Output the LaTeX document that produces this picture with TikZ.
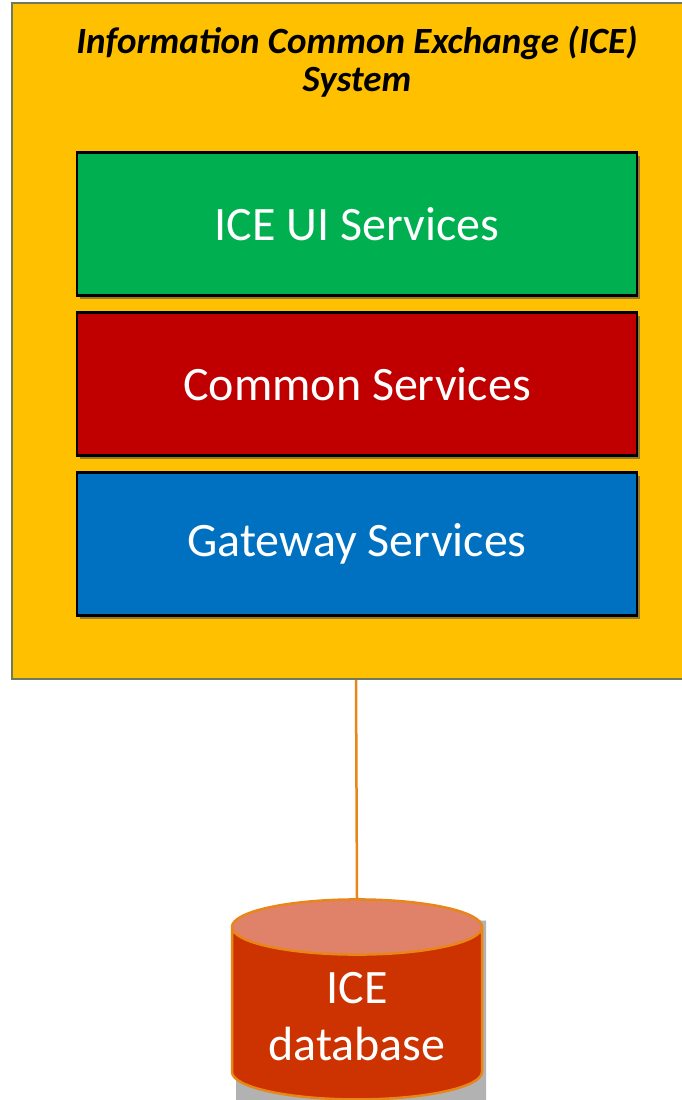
\documentclass[tikz,border=0pt]{standalone}
\usepackage{fontspec}
\setmainfont{Carlito}
\usetikzlibrary{shapes.geometric,shadows,positioning}

\definecolor{iceyellow}{HTML}{FFC000}
\definecolor{iceframe}{HTML}{6E7A5A}
\definecolor{uigreen}{HTML}{00B050}
\definecolor{commonred}{HTML}{C00000}
\definecolor{gatewayblue}{HTML}{0070C0}
\definecolor{dbbody}{HTML}{CC3300}
\definecolor{dbtop}{HTML}{E0826A}
\definecolor{dborange}{HTML}{E8861A}

\tikzset{
  layer/.style={draw=black, line width=2.5pt, minimum width=560pt, minimum height=143pt,
    text=white, font=\fontsize{48}{57}\selectfont,
    drop shadow={shadow xshift=3pt, shadow yshift=-3pt, opacity=0.6, fill=black!70}},
  dbshape/.style={shape=cylinder, shape border rotate=90, aspect=0.3,
    line width=2.5pt, minimum width=250pt, minimum height=200pt,
    cylinder uses custom fill},
}

\begin{document}
\begin{tikzpicture}[x=1pt,y=-1pt]

  % Page size of the reference
  \clip (0,0) rectangle (682,1100);
  \useasboundingbox (0,0) rectangle (682,1100);

  % The ICE system frame (its right edge runs off the page)
  \node[draw=iceframe, line width=2pt, fill=iceyellow, minimum width=688pt,
        minimum height=676pt] (ice) at (356,341) {};

  % Title of the system
  \node[font=\fontsize{37}{38}\selectfont\bfseries\itshape, align=center]
    (title) at (357,62) {Information Common Exchange (ICE)\\System};

  % The three service layers
  \node[layer, fill=uigreen] (ui) at (357,224) {ICE UI Services};
  \node[layer, fill=commonred, below=14.5pt of ui] (common) {Common Services};
  \node[layer, fill=gatewayblue, below=14.5pt of common] (gateway) {Gateway Services};

  % The database, with its shadow underneath
  \node[dbshape, cylinder body fill=black!30, cylinder end fill=black!30]
    (dbshadow) at (361,1021) {};
  \node[dbshape, draw=dborange, cylinder body fill=dbbody, cylinder end fill=dbtop,
        text=white, font=\fontsize{48}{57}\selectfont, align=center]
    (db) at (357,1017) {ICE\\database};

  % Link from the system to the database
  \draw[dborange, line width=2.5pt] (ice.south) -- (db.north);

\end{tikzpicture}
\end{document}
